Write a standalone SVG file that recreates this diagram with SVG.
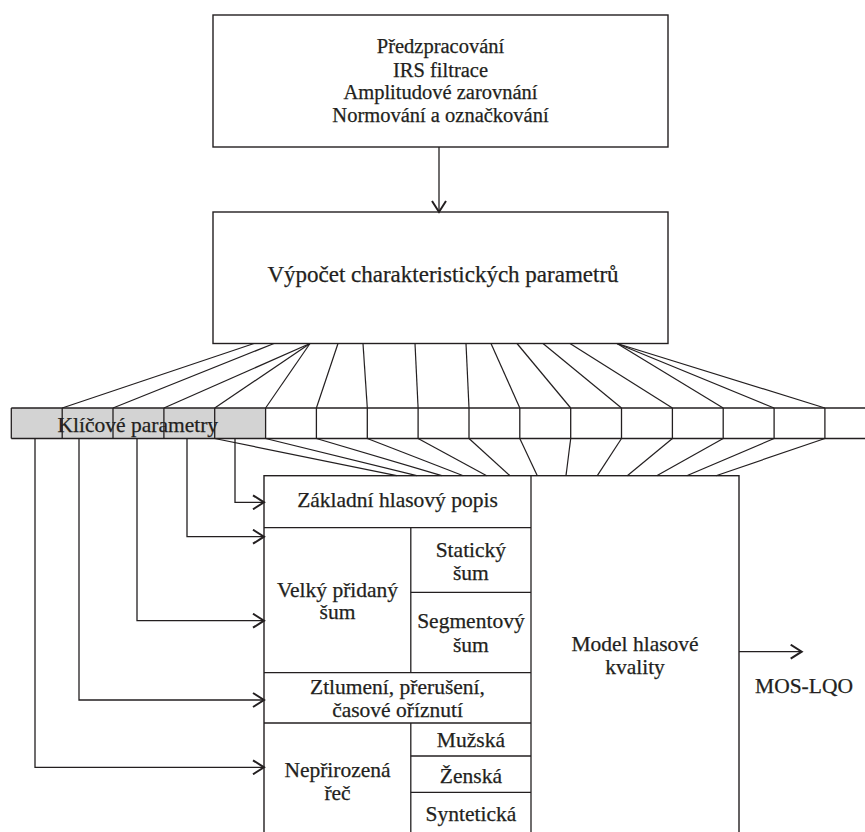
<svg xmlns="http://www.w3.org/2000/svg" width="865" height="832" viewBox="0 0 865 832">
<style>
.b{fill:#ffffff;stroke:#231f20;stroke-width:1.4}
.g{fill:#d3d3d3;stroke:none}
.l{fill:none;stroke:#231f20;stroke-width:1.3}
.c{fill:none;stroke:#231f20;stroke-width:1.2}
.t{fill:#231f20;stroke:#231f20;stroke-width:0.25;text-anchor:middle;font-family:'Liberation Serif','Times New Roman',serif}
.f20{font-size:20.5px}
.f21{font-size:21.5px}
.f23{font-size:23px}
</style>
<defs>
<marker id="ah" markerWidth="14" markerHeight="16" refX="12" refY="8" orient="auto" markerUnits="userSpaceOnUse">
<path d="M1,1 L12,8 L1,15" fill="none" stroke="#231f20" stroke-width="2"/>
</marker>
</defs>
<rect width="865" height="832" fill="#ffffff"/>

<g id="preprocessing">
<rect class="b" x="213" y="15" width="455" height="132"/>
<text class="t f20" x="440.5" y="53.3">Předzpracování</text>
<text class="t f20" x="440.5" y="76.7">IRS filtrace</text>
<text class="t f20" x="440.5" y="99">Amplitudové zarovnání</text>
<text class="t f20" x="440.5" y="121.7">Normování a označkování</text>
</g>

<g id="feature-computation">
<rect class="b" x="213" y="212" width="455" height="131.5"/>
<text class="t f23" x="443" y="282">Výpočet charakteristických parametrů</text>
</g>

<g id="key-parameters">
<rect class="g" x="11.3" y="408" width="254.2" height="30.5"/>
<line class="l" x1="11.3" y1="408" x2="865" y2="408"/>
<line class="l" x1="11.3" y1="438.5" x2="865" y2="438.5"/>
<g class="l">
<line x1="11.3" y1="408" x2="11.3" y2="438.5"/>
<line x1="62.2" y1="408" x2="62.2" y2="438.5"/>
<line x1="113" y1="408" x2="113" y2="438.5"/>
<line x1="163.9" y1="408" x2="163.9" y2="438.5"/>
<line x1="214.7" y1="408" x2="214.7" y2="438.5"/>
<line x1="265.6" y1="408" x2="265.6" y2="438.5"/>
<line x1="316.4" y1="408" x2="316.4" y2="438.5"/>
<line x1="367.3" y1="408" x2="367.3" y2="438.5"/>
<line x1="418.1" y1="408" x2="418.1" y2="438.5"/>
<line x1="469" y1="408" x2="469" y2="438.5"/>
<line x1="519.8" y1="408" x2="519.8" y2="438.5"/>
<line x1="570.7" y1="408" x2="570.7" y2="438.5"/>
<line x1="621.5" y1="408" x2="621.5" y2="438.5"/>
<line x1="672.4" y1="408" x2="672.4" y2="438.5"/>
<line x1="723.2" y1="408" x2="723.2" y2="438.5"/>
<line x1="774.1" y1="408" x2="774.1" y2="438.5"/>
<line x1="824.9" y1="408" x2="824.9" y2="438.5"/>
</g>
<text class="t f21" x="137.8" y="431.7">Klíčové parametry</text>
</g>

<g id="quality-model">
<rect class="b" x="264" y="475.7" width="475" height="380"/>
<line class="l" x1="531" y1="475.7" x2="531" y2="840"/>
<text class="t f21" x="635" y="650.7">Model hlasové</text>
<text class="t f21" x="635" y="673.5">kvality</text>
</g>

<g id="basic-description">
<line class="l" x1="264" y1="527.7" x2="531" y2="527.7"/>
<text class="t f21" x="397.5" y="507.3">Základní hlasový popis</text>
</g>

<g id="additive-noise">
<line class="l" x1="264" y1="672.7" x2="531" y2="672.7"/>
<line class="l" x1="410.8" y1="527.7" x2="410.8" y2="672.7"/>
<text class="t f21" x="337.5" y="596.7">Velký přidaný</text>
<text class="t f21" x="337.5" y="619.3">šum</text>
</g>

<g id="static-noise">
<line class="l" x1="410.8" y1="592.3" x2="531" y2="592.3"/>
<text class="t f21" x="470.9" y="556.7">Statický</text>
<text class="t f21" x="470.9" y="580">šum</text>
</g>

<g id="segment-noise">
<text class="t f21" x="470.9" y="628.3">Segmentový</text>
<text class="t f21" x="470.9" y="651.7">šum</text>
</g>

<g id="attenuation">
<line class="l" x1="264" y1="723" x2="531" y2="723"/>
<text class="t f21" x="397.5" y="694.3">Ztlumení, přerušení,</text>
<text class="t f21" x="397.5" y="717.3">časové oříznutí</text>
</g>

<g id="unnatural-speech">
<line class="l" x1="410.8" y1="723" x2="410.8" y2="840"/>
<text class="t f21" x="337.5" y="776.7">Nepřirozená</text>
<text class="t f21" x="337.5" y="800">řeč</text>
</g>

<g id="male">
<line class="l" x1="410.8" y1="756" x2="531" y2="756"/>
<text class="t f21" x="470.9" y="746.7">Mužská</text>
</g>

<g id="female">
<line class="l" x1="410.8" y1="792.3" x2="531" y2="792.3"/>
<text class="t f21" x="470.9" y="783.3">Ženská</text>
</g>

<g id="synthetic">
<text class="t f21" x="470.9" y="820.7">Syntetická</text>
</g>

<g id="output-label">
<text class="t f21" x="804" y="693">MOS-LQO</text>
</g>

<g id="connectors">
<line class="l" x1="439" y1="147" x2="439" y2="212" marker-end="url(#ah)"/>
<g class="c">
<line x1="254" y1="343.5" x2="62.2" y2="408"/>
<line x1="274" y1="343.5" x2="113" y2="408"/>
<line x1="310" y1="343.5" x2="163.9" y2="408"/>
<line x1="310" y1="343.5" x2="214.7" y2="408"/>
<line x1="310" y1="343.5" x2="265.6" y2="408"/>
<line x1="338" y1="343.5" x2="316.4" y2="408"/>
<line x1="363" y1="343.5" x2="367.3" y2="408"/>
<line x1="415" y1="343.5" x2="418.1" y2="408"/>
<line x1="466" y1="343.5" x2="469" y2="408"/>
<line x1="491" y1="343.5" x2="519.8" y2="408"/>
<line x1="517" y1="343.5" x2="570.7" y2="408"/>
<line x1="543" y1="343.5" x2="621.5" y2="408"/>
<line x1="570" y1="343.5" x2="672.4" y2="408"/>
<line x1="617" y1="343.5" x2="723.2" y2="408"/>
<line x1="617" y1="343.5" x2="774.1" y2="408"/>
<line x1="617" y1="343.5" x2="824.9" y2="408"/>

<line x1="214.7" y1="438.5" x2="396.7" y2="475.7"/>
<line x1="265.6" y1="438.5" x2="416.7" y2="475.7"/>
<line x1="316.4" y1="438.5" x2="441.7" y2="475.7"/>
<line x1="367.3" y1="438.5" x2="463.3" y2="475.7"/>
<line x1="418.1" y1="438.5" x2="486.7" y2="475.7"/>
<line x1="469" y1="438.5" x2="510" y2="475.7"/>
<line x1="519.8" y1="438.5" x2="537.3" y2="475.7"/>
<line x1="570.7" y1="438.5" x2="566" y2="475.7"/>
<line x1="621.5" y1="438.5" x2="597.3" y2="475.7"/>
<line x1="672.4" y1="438.5" x2="627.3" y2="475.7"/>
<line x1="723.2" y1="438.5" x2="656.7" y2="475.7"/>
<line x1="774.1" y1="438.5" x2="686.7" y2="475.7"/>
<line x1="824.9" y1="438.5" x2="716" y2="475.7"/>
</g>
<g class="l">
<polyline points="235,438.5 235,502.3 264,502.3" marker-end="url(#ah)"/>
<polyline points="187,438.5 187,536.7 264,536.7" marker-end="url(#ah)"/>
<polyline points="137,438.5 137,620.7 264,620.7" marker-end="url(#ah)"/>
<polyline points="79,438.5 79,700 264,700" marker-end="url(#ah)"/>
<polyline points="35,438.5 35,767.3 264,767.3" marker-end="url(#ah)"/>
<line x1="739" y1="651.7" x2="801.7" y2="651.7" marker-end="url(#ah)"/>
</g>
</g>
</svg>
